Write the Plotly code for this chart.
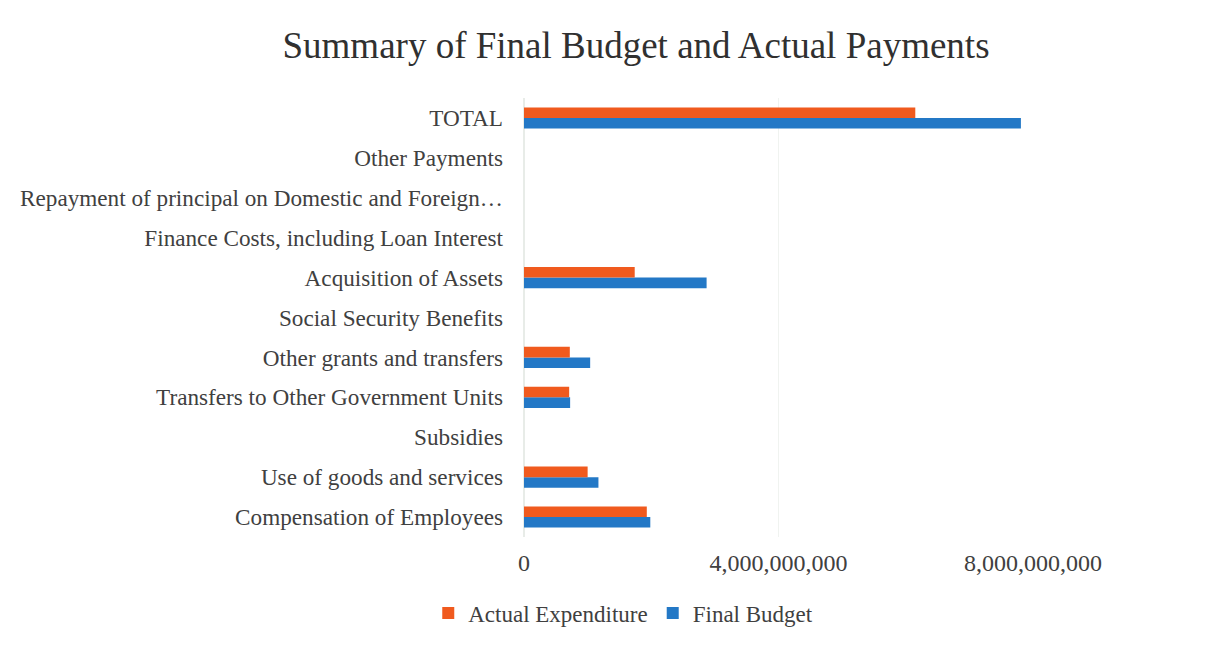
import plotly.graph_objects as go

categories = [
    "Compensation of Employees",
    "Use of goods and services",
    "Subsidies",
    "Transfers to Other Government Units",
    "Other grants and transfers",
    "Social Security Benefits",
    "Acquisition of Assets",
    "Finance Costs, including Loan Interest",
    "Repayment of principal on Domestic and Foreign…",
    "Other Payments",
    "TOTAL",
]
actual_expenditure = [1.93e9, 1.00e9, 0, 0.71e9, 0.72e9, 0, 1.74e9, 0, 0, 0, 6.15e9]
final_budget = [1.985e9, 1.17e9, 0, 0.725e9, 1.04e9, 0, 2.87e9, 0, 0, 0, 7.81e9]
tick_vals = [0, 4e9, 8e9]
tick_text = ["0", "4,000,000,000", "8,000,000,000"]

FONT = "Liberation Serif, Times New Roman, serif"
ORANGE = "#F05A1E"
BLUE = "#2378C6"

fig = go.Figure()
fig.add_trace(go.Bar(y=categories, x=final_budget, orientation="h", name="Final Budget",
                     marker=dict(color=BLUE, line=dict(width=0))))
fig.add_trace(go.Bar(y=categories, x=actual_expenditure, orientation="h", name="Actual Expenditure",
                     marker=dict(color=ORANGE, line=dict(width=0))))

fig.update_layout(
    width=1229, height=645,
    paper_bgcolor="white", plot_bgcolor="white",
    margin=dict(l=516, r=204, t=90, b=116, autoexpand=False),
    barmode="group", bargap=0.47, bargroupgap=0,
    title=dict(text="Summary of Final Budget and Actual Payments", x=0.511, xanchor="center",
               y=0.943, yanchor="middle", font=dict(family=FONT, size=37, color="#303030")),
    font=dict(family=FONT, color="#404040"),
    showlegend=True,
    legend=dict(orientation="h", x=0.195, xanchor="center", y=-0.173, yanchor="middle",
                traceorder="reversed", font=dict(family=FONT, size=23, color="#404040"),
                itemwidth=30),
    xaxis=dict(range=[0, 8e9], tickvals=tick_vals, ticktext=tick_text, showgrid=True,
               gridcolor="#F0F3F0", gridwidth=1, zeroline=True, zerolinecolor="#E8ECE8",
               tickfont=dict(family=FONT, size=24, color="#404040"), ticks="", ticklabelstandoff=9,
               fixedrange=True, automargin=False),
    yaxis=dict(categoryorder="array", categoryarray=categories, showgrid=False, zeroline=False,
               ticks="", ticklabelstandoff=20, automargin=False,
               tickfont=dict(family=FONT, size=23.2, color="#404040")),
)

fig.write_html("out.html")
